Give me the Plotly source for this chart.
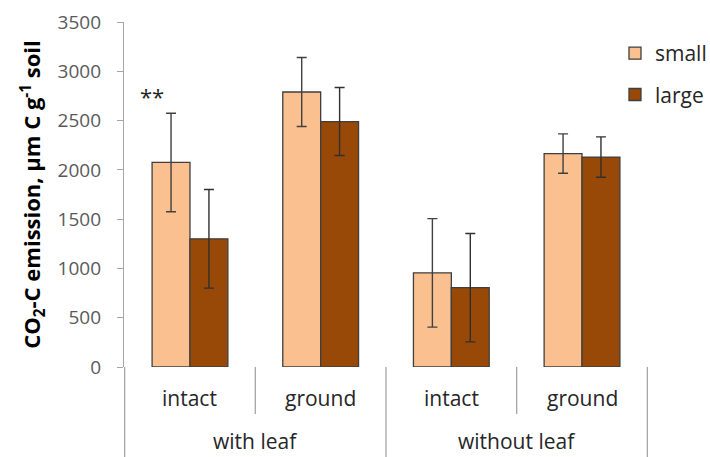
import plotly.graph_objects as go

# Treatment groups and leaf-residue forms
groups = ["with leaf", "with leaf", "without leaf", "without leaf"]
forms = ["intact", "ground", "intact", "ground"]

# CO2-C emission (µm C g-1 soil) and standard deviations per aggregate size
small_vals = [2075, 2790, 955, 2165]
small_err = [500, 350, 550, 200]
large_vals = [1300, 2490, 805, 2130]
large_err = [500, 345, 550, 205]

y_ticks = [0, 500, 1000, 1500, 2000, 2500, 3000, 3500]

FONT = "Open Sans"
EDGE = "#3f3f3f"
AXIS = "#a6a6a6"
LABEL = "#262626"

x_cats = [groups, forms]

fig = go.Figure()
fig.add_trace(go.Bar(
    name="small", x=x_cats, y=small_vals, legendgroup="small",
    marker=dict(color="#FAC090", line=dict(color=EDGE, width=1.3)),
    error_y=dict(type="data", array=small_err, color="#404040",
                 thickness=1.4, width=5),
))
fig.add_trace(go.Bar(
    name="large", x=x_cats, y=large_vals, legendgroup="large",
    marker=dict(color="#984807", line=dict(color=EDGE, width=1.3)),
    error_y=dict(type="data", array=large_err, color="#303030",
                 thickness=1.4, width=5),
))

# Significance mark above the first small-aggregate bar
fig.add_annotation(
    x=0, y=small_vals[0] + small_err[0], text="**", showarrow=False,
    xshift=-38, yshift=0, yanchor="bottom",
    font=dict(family=FONT, size=22, color=LABEL),
)

# Two-level category labels under the axis, in a boxed table layout
ROW1_Y, ROW2_Y = -0.09, -0.215
INNER_BOTTOM, OUTER_BOTTOM = -0.136, -0.27
for i, form in enumerate(forms):
    fig.add_annotation(
        x=i, y=ROW1_Y, xref="x", yref="paper", text=form, showarrow=False,
        yanchor="middle", font=dict(family=FONT, size=21, color=LABEL),
    )

group_names = list(dict.fromkeys(groups))
for name in group_names:
    idx = [i for i, g in enumerate(groups) if g == name]
    fig.add_annotation(
        x=(idx[0] + idx[-1]) / 2, y=ROW2_Y, xref="x", yref="paper",
        text=name, showarrow=False, yanchor="middle",
        font=dict(family=FONT, size=21, color=LABEL),
    )

# Separators: full height between groups and at the ends, short between forms
for i in range(len(forms) + 1):
    if i in (0, len(forms)) or groups[i - 1] != groups[i]:
        bottom = OUTER_BOTTOM
    else:
        bottom = INNER_BOTTOM
    fig.add_shape(
        type="line", xref="x", yref="paper",
        x0=i - 0.5, x1=i - 0.5, y0=0, y1=bottom,
        line=dict(color=AXIS, width=1.3),
    )

fig.update_layout(
    width=710, height=457,
    margin=dict(l=124, r=62, t=22, b=90, autoexpand=False),
    plot_bgcolor="white", paper_bgcolor="white",
    barmode="group", bargap=0.42, bargroupgap=0,
    showlegend=True,
    legend=dict(
        x=0.937, y=0.968, xanchor="left", yanchor="top",
        font=dict(family=FONT, size=21, color=LABEL),
        bgcolor="rgba(0,0,0,0)", tracegroupgap=11,
    ),
    font=dict(family=FONT, color="#404040"),
)

fig.update_xaxes(
    type="multicategory",
    showline=False, showdividers=False, showticklabels=False,
    showgrid=False, ticks="",
)
fig.update_yaxes(
    range=[0, 3500], tickvals=y_ticks,
    showline=True, linecolor=AXIS, linewidth=1.3,
    ticks="outside", ticklen=6, tickcolor=AXIS, tickwidth=1.3,
    ticklabelstandoff=12,
    tickfont=dict(family=FONT, size=19, color="#595959"),
    showgrid=False, zeroline=False,
    title=dict(
        text="<b>CO<sub>2</sub>-C emission, µm C g<sup>-1</sup> soil</b>",
        font=dict(family=FONT, size=22, color="#000000"),
        standoff=10,
    ),
)

fig.write_html("out.html")
